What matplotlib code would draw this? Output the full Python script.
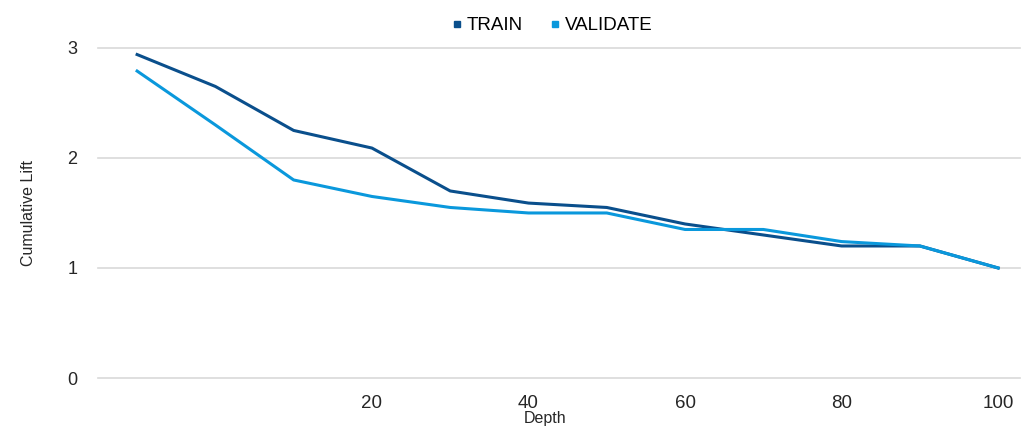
import matplotlib
matplotlib.use("Agg")
import matplotlib.pyplot as plt
from matplotlib.lines import Line2D

depth = ["1", "5", "10", "20", "30", "40", "50", "60", "70", "80", "90", "100"]
train = [2.94, 2.65, 2.25, 2.09, 1.70, 1.59, 1.55, 1.40, 1.30, 1.20, 1.20, 1.00]
validate = [2.79, 2.30, 1.80, 1.65, 1.55, 1.50, 1.50, 1.35, 1.35, 1.24, 1.20, 1.00]
shown_ticks = ["20", "40", "60", "80", "100"]
y_ticks = [0, 1, 2, 3]

c_train = "#0a4f8c"
c_val = "#0a98dc"

plt.rcParams['font.family'] = ['Liberation Sans', 'DejaVu Sans']

fig = plt.figure(figsize=(10.28, 4.28), dpi=100)
ax = fig.add_axes([0.0953, 0.1168, 0.897, 0.7712])

x = list(range(len(depth)))
ax.plot(x, train, color=c_train, lw=2.2, solid_joinstyle='round', zorder=3)
ax.plot(x, validate, color=c_val, lw=2.2, solid_joinstyle='round', zorder=3)

ax.set_xlim(-0.5, 11.28)
ax.set_ylim(0, 3)
ax.set_yticks(y_ticks)
ax.set_yticklabels([str(v) for v in y_ticks], fontsize=13, color="#262626")
tick_pos = [depth.index(t) for t in shown_ticks]
ax.set_xticks(tick_pos)
ax.set_xticklabels(shown_ticks, fontsize=13.5, color="#262626")
ax.tick_params(axis='both', length=0)
ax.tick_params(axis='x', pad=12)
ax.tick_params(axis='y', pad=15)

ax.grid(axis='y', color="#d9d9d9", lw=1.2)
for gl in ax.get_ygridlines():
    gl.set_clip_on(False)
ax.set_axisbelow(True)
for s in ax.spines.values():
    s.set_visible(False)

ax.set_xlabel("Depth", fontsize=11.5, color="#262626")
ax.xaxis.set_label_coords(0.485, -0.123, transform=ax.transAxes)
ax.xaxis.label.set_va('center')
ax.set_ylabel("Cumulative Lift", fontsize=11.5, color="#262626", labelpad=22)

handles = [Line2D([], [], marker='s', ls='none', color=c_train, markersize=5),
           Line2D([], [], marker='s', ls='none', color=c_val, markersize=5)]
fig.legend(handles, ["TRAIN", "VALIDATE"], loc='center', bbox_to_anchor=(0.536, 0.94),
           ncol=2, frameon=False, fontsize=13.5, handletextpad=0.15, columnspacing=1.3,
           handlelength=0.8)

fig.savefig("out.png", dpi=100, facecolor="white")
